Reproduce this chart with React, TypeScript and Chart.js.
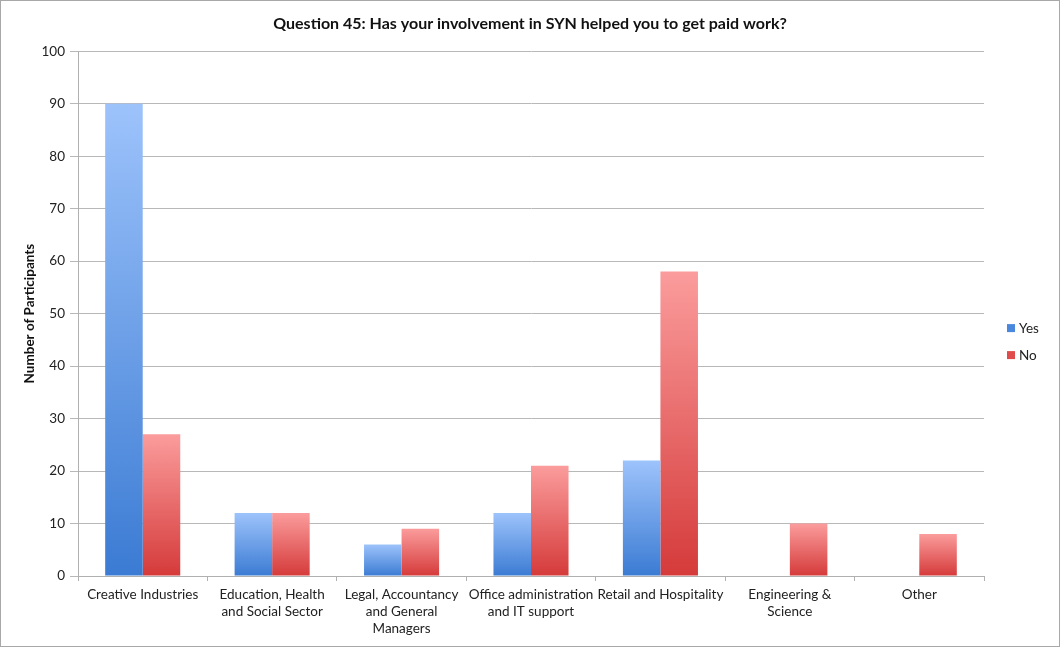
import React, { useEffect, useRef } from "react";
import { Chart, registerables } from "chart.js";

Chart.register(...registerables);

const categories: (string | string[])[] = [
  "Creative Industries",
  ["Education, Health", "and Social Sector"],
  ["Legal, Accountancy", "and General", "Managers"],
  ["Office administration", "and IT support"],
  "Retail and Hospitality",
  ["Engineering &", "Science"],
  "Other",
];
const yesValues = [90, 12, 6, 12, 22, 0, 0];
const noValues = [27, 12, 9, 21, 58, 10, 8];
const seriesNames = ["Yes", "No"];
const legendColors = ["#4a88de", "#e04c4c"];
const titleText = "Question 45: Has your involvement in SYN helped you to get paid work?";
const yAxisTitle = "Number of Participants";

const FONT = "Lato, 'Open Sans', sans-serif";

function gradientFill(top: string, bottom: string, solid: string) {
  return (ctx: any) => {
    if (ctx.type !== "data") return solid;
    const chart = ctx.chart;
    const ys = chart.scales && chart.scales.y;
    if (!ys || !chart.chartArea) return solid;
    const v = ctx.parsed ? ctx.parsed.y : ctx.raw;
    const yTop = ys.getPixelForValue(v);
    const yBase = ys.getPixelForValue(0);
    if (!isFinite(yTop) || !isFinite(yBase) || yTop === yBase) return solid;
    const g = chart.ctx.createLinearGradient(0, yTop, 0, yBase);
    g.addColorStop(0, top);
    g.addColorStop(1, bottom);
    return g;
  };
}

const sideLegend = {
  id: "sideLegend",
  afterDraw(chart: any) {
    const { ctx, chartArea } = chart;
    const x = chartArea.right + 23;
    const midY = (chartArea.top + chartArea.bottom) / 2;
    ctx.save();
    ctx.font = `13.5px ${FONT}`;
    ctx.textBaseline = "middle";
    ctx.textAlign = "left";
    chart.data.datasets.forEach((ds: any, i: number) => {
      const y = midY + 14.5 + i * 27;
      ctx.fillStyle = legendColors[i];
      ctx.fillRect(x, y - 4, 8, 8);
      ctx.fillStyle = "#222";
      ctx.fillText(ds.label, x + 12, y + 0.5);
    });
    ctx.restore();
  },
};

export default function App() {
  const ref = useRef<HTMLCanvasElement | null>(null);

  useEffect(() => {
    document.body.style.margin = "0";
    const canvas = ref.current;
    if (!canvas) return;
    const chart = new Chart(canvas, {
      type: "bar",
      data: {
        labels: categories,
        datasets: [
          {
            label: seriesNames[0],
            data: yesValues,
            backgroundColor: gradientFill("#9dc3fb", "#3b7bd3", legendColors[0]),
            borderWidth: 0,
            barPercentage: 1,
            categoryPercentage: 0.58,
          },
          {
            label: seriesNames[1],
            data: noValues,
            backgroundColor: gradientFill("#fb9c9c", "#d53a3a", legendColors[1]),
            borderWidth: 0,
            barPercentage: 1,
            categoryPercentage: 0.58,
          },
        ],
      },
      plugins: [sideLegend],
      options: {
        animation: false,
        responsive: true,
        maintainAspectRatio: false,
        layout: { padding: 0 },
        plugins: {
          title: {
            display: true,
            text: titleText,
            color: "#111",
            font: { family: FONT, size: 16, weight: "bold" },
            padding: { top: 13, bottom: 18 },
          },
          legend: { display: false },
          tooltip: { enabled: false },
        },
        scales: {
          x: {
            grid: {
              display: true,
              drawOnChartArea: false,
              drawTicks: true,
              tickLength: 5,
              color: "#b0b0b0",
              offset: true,
            },
            border: { display: true, color: "#b0b0b0" },
            ticks: {
              color: "#222",
              font: { family: FONT, size: 13.5, lineHeight: 1.26 },
              maxRotation: 0,
              autoSkip: false,
              padding: 5,
            },
            afterFit: (s: any) => {
              s.height = 70;
            },
          },
          y: {
            min: 0,
            max: 100,
            ticks: {
              stepSize: 10,
              color: "#222",
              font: { family: FONT, size: 13.5 },
              padding: 5,
            },
            grid: { color: "#b8b8b8", tickLength: 8 },
            border: { display: true, color: "#b0b0b0" },
            title: {
              display: true,
              text: yAxisTitle,
              color: "#111",
              font: { family: FONT, size: 13.5, weight: "bold" },
              padding: { top: 21, bottom: 0 },
            },
            afterFit: (s: any) => {
              s.width = 77;
            },
          },
          legendSpace: {
            type: "linear",
            position: "right",
            display: true,
            grid: { display: false },
            border: { display: false },
            ticks: { display: false },
            afterFit: (s: any) => {
              s.width = 75;
            },
          },
        },
      },
    });
    return () => chart.destroy();
  }, []);

  return (
    <div
      style={{
        width: 1060,
        height: 647,
        boxSizing: "border-box",
        border: "1px solid #a8a8a8",
        background: "#fff",
        position: "relative",
      }}
    >
      <canvas ref={ref} />
    </div>
  );
}
